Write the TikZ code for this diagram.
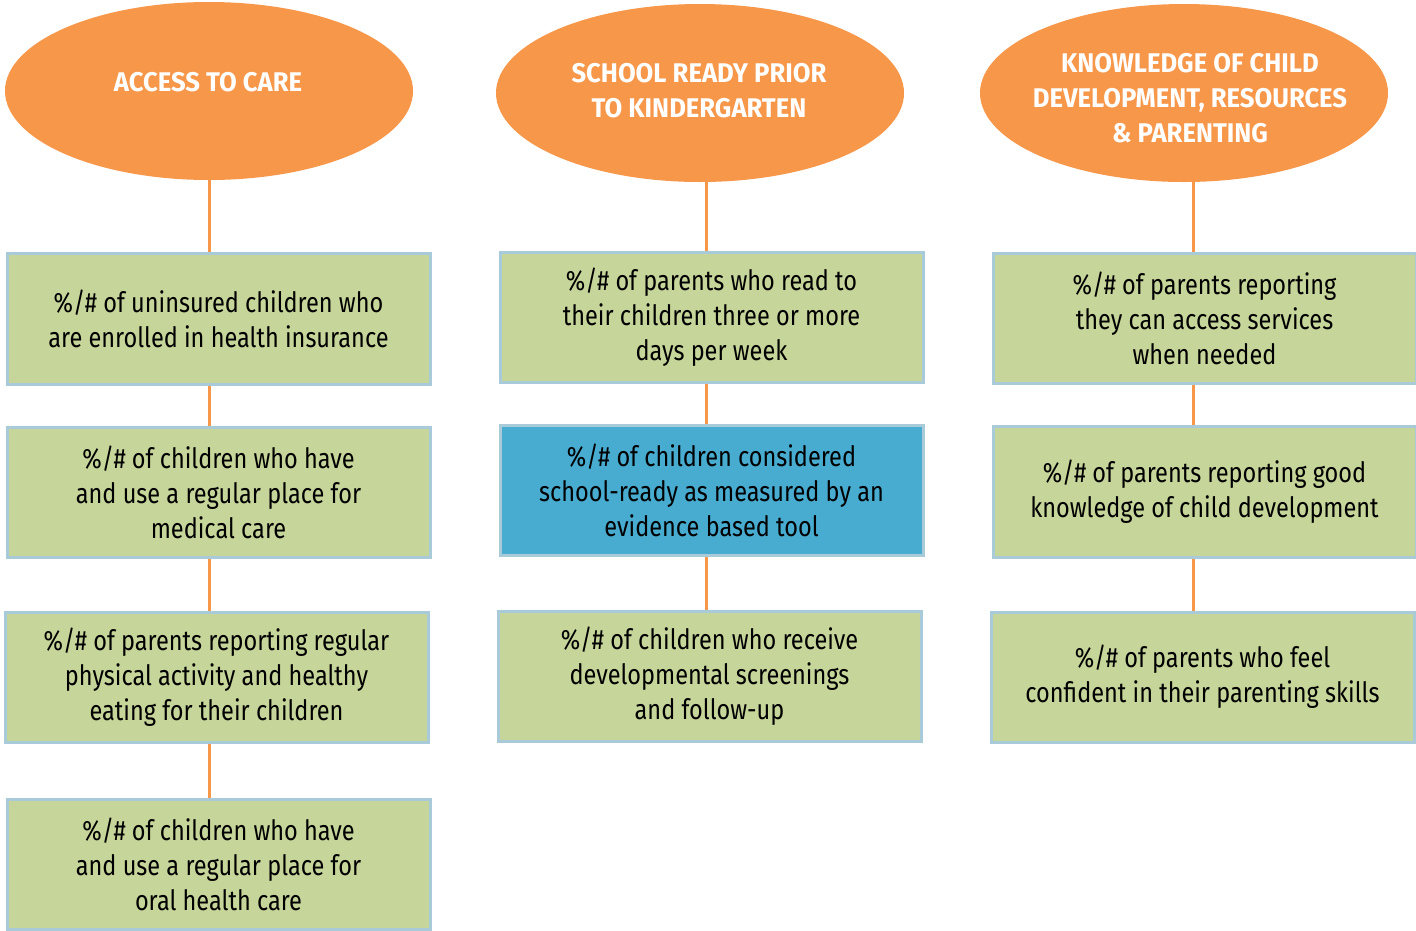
\documentclass[tikz,border=0pt]{standalone}
\usepackage{fontspec}
\setmainfont{Fira Sans}
\newfontfamily\bodyf{Fira Sans}[FakeStretch=0.84]
\newfontfamily\headf{Fira Sans}[FakeStretch=0.95]
\usetikzlibrary{shapes.geometric}
\definecolor{orng}{HTML}{F7974A}
\definecolor{gfill}{HTML}{C6D59A}
\definecolor{bfill}{HTML}{48ACD0}
\definecolor{bord}{HTML}{A9CBD9}
\begin{document}
\begin{tikzpicture}[x=1pt,y=-1pt,
  head/.style={ellipse,fill=orng,draw=none,inner sep=0pt},
  headtxt/.style={text=white,font=\headf\bfseries\fontsize{27}{35}\selectfont,align=center,inner sep=0pt},
  ind/.style={rectangle,draw=bord,line width=3pt,fill=gfill,inner sep=0pt,
    font=\bodyf\fontsize{28}{35}\selectfont,align=center,text=black},
  hot/.style={ind,fill=bfill},
  conn/.style={draw=orng,line width=3pt}]
\useasboundingbox (0,0) rectangle (1416,930);
% column 1
\node[head,minimum width=408pt,minimum height=178pt] (e1) at (209,91) {};
\node[headtxt] (t1) at (208,82) {ACCESS TO CARE};
\node[ind,minimum width=423pt,minimum height=131pt] (a1) at (218.5,318.5) {\%/\# of uninsured children who\\are enrolled in health insurance};
\node[ind,minimum width=423pt,minimum height=130pt] (a2) at (218.5,492) {\%/\# of children who have\\and use a regular place for\\medical care};
\node[ind,minimum width=423pt,minimum height=130pt] (a3) at (216.5,677) {\%/\# of parents reporting regular\\physical activity and healthy\\eating for their children};
\node[ind,minimum width=423pt,minimum height=130pt] (a4) at (218.5,864) {\%/\# of children who have\\and use a regular place for\\oral health care};
% column 2
\node[head,minimum width=408pt,minimum height=178pt] (e2) at (700,93) {};
\node[headtxt] (t2) at (699,91) {SCHOOL READY PRIOR\\TO KINDERGARTEN};
\node[ind,minimum width=423pt,minimum height=130pt] (b1) at (711.5,317) {\%/\# of parents who read to\\their children three or more\\days per week};
\node[hot,minimum width=423pt,minimum height=130pt] (b2) at (711.5,490) {\%/\# of children considered\\school-ready as measured by an\\evidence based tool};
\node[ind,minimum width=423pt,minimum height=130pt] (b3) at (709.5,676) {\%/\# of children who receive\\developmental screenings\\and follow-up};
% column 3
\node[head,minimum width=408pt,minimum height=178pt] (e3) at (1184,93) {};
\node[headtxt] (t3) at (1190,98) {KNOWLEDGE OF CHILD\\DEVELOPMENT, RESOURCES\\\& PARENTING};
\node[ind,minimum width=423pt,minimum height=130pt] (c1) at (1204.5,318) {\%/\# of parents reporting\\they can access services\\when needed};
\node[ind,minimum width=423pt,minimum height=131pt] (c2) at (1204.5,491.5) {\%/\# of parents reporting good\\knowledge of child development};
\node[ind,minimum width=423pt,minimum height=130pt] (c3) at (1202.5,677) {\%/\# of parents who feel\\confident in their parenting skills};
% connectors
\draw[conn] (e1.south) -- (e1.south |- a1.north);
\draw[conn] (e1.south |- a1.south) -- (e1.south |- a2.north);
\draw[conn] (e1.south |- a2.south) -- (e1.south |- a3.north);
\draw[conn] (e1.south |- a3.south) -- (e1.south |- a4.north);
\coordinate (x2) at (706,0);
\draw[conn] (x2 |- e2.south) -- (x2 |- b1.north);
\draw[conn] (x2 |- b1.south) -- (x2 |- b2.north);
\draw[conn] (x2 |- b2.south) -- (x2 |- b3.north);
\coordinate (x3) at (1193,0);
\draw[conn] (x3 |- e3.south) -- (x3 |- c1.north);
\draw[conn] (x3 |- c1.south) -- (x3 |- c2.north);
\draw[conn] (x3 |- c2.south) -- (x3 |- c3.north);
\end{tikzpicture}
\end{document}
